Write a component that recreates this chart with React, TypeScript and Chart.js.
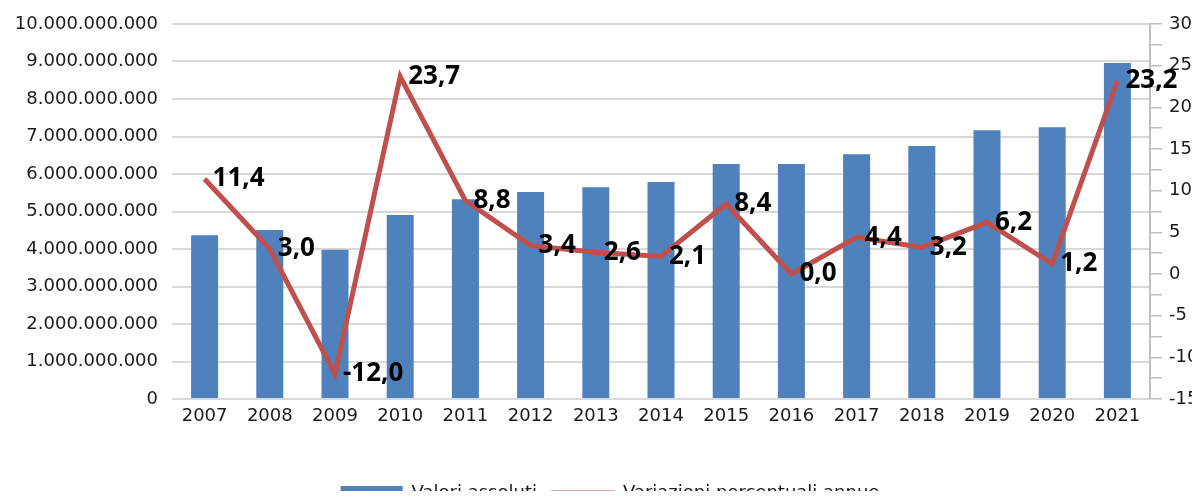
import React, { useEffect, useRef } from 'react';
import { Chart, registerables } from 'chart.js';

Chart.register(...registerables);

const years = ['2007', '2008', '2009', '2010', '2011', '2012', '2013', '2014', '2015', '2016', '2017', '2018', '2019', '2020', '2021'];
const absoluteValues = [4.37e9, 4.51e9, 3.98e9, 4.91e9, 5.33e9, 5.52e9, 5.65e9, 5.79e9, 6.27e9, 6.27e9, 6.53e9, 6.75e9, 7.17e9, 7.25e9, 8.96e9];
const percentChanges = [11.4, 3.0, -12.0, 23.7, 8.8, 3.4, 2.6, 2.1, 8.4, 0.0, 4.4, 3.2, 6.2, 1.2, 23.2];
const barLabel = 'Valori assoluti';
const lineLabel = 'Variazioni percentuali annue';

const BLUE = '#4F81BD';
const RED = '#C0504D';
const GRID = '#D9D9D9';
const AXIS = '#BFBFBF';
const TICK_FONT = { family: 'DejaVu Sans', size: 18, lineHeight: 1 };

const fmtThousands = (n: number) => String(Math.round(n)).replace(/\B(?=(\d{3})+(?!\d))/g, '.');
const fmtPercent = (n: number) => n.toFixed(1).replace('.', ',');

const pointLabels = {
  id: 'pointLabels',
  afterDatasetsDraw(chart: any) {
    const meta = chart.getDatasetMeta(1);
    const data = chart.data.datasets[1].data as number[];
    const ctx = chart.ctx;
    ctx.save();
    ctx.font = 'bold 26px "Open Sans"';
    ctx.fillStyle = '#000';
    ctx.textAlign = 'left';
    ctx.textBaseline = 'middle';
    meta.data.forEach((pt: any, i: number) => {
      ctx.fillText(fmtPercent(data[i]), pt.x + 8, pt.y);
    });
    ctx.restore();
  },
};

const legendShift = {
  id: 'legendShift',
  afterLayout(chart: any) {
    if (chart.legend) {
      chart.legend.left += 10;
      chart.legend.right += 10;
    }
  },
};

export default function App() {
  const canvasRef = useRef<HTMLCanvasElement | null>(null);

  useEffect(() => {
    if (!canvasRef.current) return;
    const chart = new Chart(canvasRef.current, {
      type: 'bar',
      data: {
        labels: years,
        datasets: [
          {
            type: 'bar',
            label: barLabel,
            data: absoluteValues,
            backgroundColor: BLUE,
            borderWidth: 0,
            yAxisID: 'y',
            barPercentage: 0.414,
            categoryPercentage: 1,
            order: 1,
          },
          {
            type: 'line',
            label: lineLabel,
            data: percentChanges,
            borderColor: RED,
            backgroundColor: RED,
            borderWidth: 5,
            pointRadius: 0,
            tension: 0,
            yAxisID: 'y1',
            order: 0,
          } as any,
        ],
      },
      options: {
        responsive: false,
        animation: false,
        layout: { padding: { top: 16, bottom: -13, left: 0, right: 0 } },
        scales: {
          x: {
            grid: { display: false, drawTicks: false },
            border: { display: false },
            ticks: { color: '#1a1a1a', font: { family: 'DejaVu Sans', size: 18 }, padding: 7, autoSkip: false, maxRotation: 0 },
            afterFit: (s: any) => { s.height = 70; },
          },
          y: {
            position: 'left',
            min: 0,
            max: 10000000000,
            grid: { color: GRID, lineWidth: 2, drawTicks: true, tickLength: 14, tickColor: 'rgba(0,0,0,0)' },
            border: { display: false },
            ticks: {
              stepSize: 1000000000,
              color: '#1a1a1a',
              font: TICK_FONT,
              padding: 0,
              autoSkip: false,
              callback: (v: any) => fmtThousands(Number(v)),
            },
            afterFit: (s: any) => { s.width = 164; },
          },
          y1: {
            position: 'right',
            min: -15,
            max: 30,
            grid: { drawOnChartArea: false, drawTicks: true, tickLength: 12, color: AXIS, lineWidth: 1.5 },
            border: { display: true, color: AXIS, width: 2 },
            ticks: {
              stepSize: 2.5,
              color: '#1a1a1a',
              font: TICK_FONT,
              padding: 7,
              autoSkip: false,
              callback: (v: any) => (Number(v) % 5 === 0 ? String(v) : ''),
            },
            afterFit: (s: any) => { s.width = 42; },
          },
        },
        plugins: {
          legend: {
            position: 'bottom',
            labels: {
              usePointStyle: true,
              pointStyleWidth: 62,
              boxHeight: 14,
              padding: 15,
              color: '#1a1a1a',
              font: { family: 'DejaVu Sans', size: 18 },
              sort: (a: any, b: any) => a.datasetIndex - b.datasetIndex,
              generateLabels: (ch: any) => {
                const items = Chart.defaults.plugins.legend.labels.generateLabels(ch);
                return items.map((it: any) => {
                  if (it.datasetIndex === 0) {
                    return { ...it, pointStyle: 'rect', lineWidth: 0, fillStyle: BLUE, strokeStyle: BLUE };
                  }
                  return { ...it, pointStyle: 'line', lineWidth: 5, strokeStyle: RED, fillStyle: RED, lineCap: 'round' };
                });
              },
            },
          },
          tooltip: { enabled: false },
        },
      },
      plugins: [pointLabels, legendShift],
    });
    return () => chart.destroy();
  }, []);

  return (
    <div style={{ width: 1184, height: 491, marginBottom: -8 }}>
      <canvas ref={canvasRef} width={1184} height={491} style={{ display: 'block' }} />
    </div>
  );
}
